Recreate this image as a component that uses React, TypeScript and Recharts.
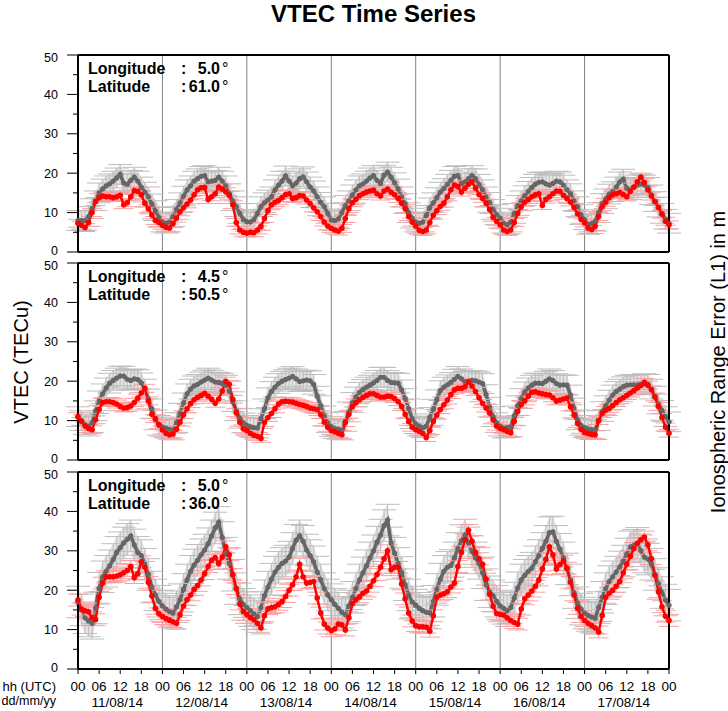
import React from "react";
import { ComposedChart, Line, Area, XAxis, YAxis, ErrorBar, ReferenceLine } from "recharts";

// hourly VTEC values (TECu), 11/08/14 00 UTC .. 18/08/14 00 UTC
const p1Grey = [
  8, 8, 8, 9, 11, 13, 15, 16, 16.8, 17.3, 18, 18.8, 19.7, 17.5, 17.2, 18.2, 19, 18, 16.5, 15.2, 14, 12.2, 10.5, 8.8,
  7.6, 7.3, 7.6, 9, 10.8, 12.5, 14.2, 15.8, 16.8, 18, 18.6, 19.2, 19.4, 17.8, 18, 18.2, 19, 18, 16.8, 14.8, 13, 11.5, 9.8, 8.2,
  7.7, 7.6, 8.2, 9.8, 11.5, 12.5, 13.2, 14, 15.8, 17, 18, 19.3, 18, 16.8, 17.5, 18.6, 19.1, 17.8, 16.5, 15.5, 14, 12.6, 11.5, 9.8,
  8.1, 8, 8.4, 10, 11.8, 13, 14.5, 15.8, 16.8, 17.3, 18, 18.8, 19.4, 18.2, 17.4, 19.5, 20.3, 19, 17.6, 16, 14, 12.3, 10, 8.6,
  7.6, 7.3, 7.6, 9.3, 11.2, 12.5, 13.8, 15.2, 16.1, 17.2, 18.2, 19.2, 19.4, 17.4, 17.8, 18.6, 19.4, 18.6, 17.2, 15.8, 14, 12.6, 10.8, 9.5,
  8.6, 7.3, 6.9, 7.6, 9.8, 11.8, 13, 14.3, 15.4, 16.4, 17.2, 17.7, 17.8, 17.3, 17, 17.4, 18, 17.8, 17, 15.8, 14.8, 13, 11.5, 9.5,
  8.2, 7, 7.2, 7.8, 10, 12.3, 13.5, 14.7, 15.3, 16.5, 17.8, 18.5, 16.2, 15.8, 16.4, 17, 17.3, 17, 16.4, 14.5, 12.8, 11.4, 9.8, 8.3, 7.3,
];
const p1Red = [
  7.3, 6.8, 6.2, 7.5, 10, 12.8, 13.8, 14.2, 14, 14, 13.8, 14, 14.4, 12, 12.5, 14, 15.6, 15.4, 14.5, 12.4, 11, 9.4, 8, 7.5,
  6.8, 6.3, 6.1, 7.2, 8.6, 10.2, 11.2, 12.2, 13.2, 14.5, 15.8, 16.3, 16.4, 13.3, 14, 14.8, 16.5, 16, 15.3, 14.4, 12, 7.5, 5.6, 5,
  4.8, 5, 4.9, 5.6, 6.5, 8.5, 10.5, 12, 12.6, 13.1, 13.8, 14.6, 14.8, 13.6, 13.8, 14.3, 14.2, 13.2, 12.3, 11.2, 10.2, 9, 7.6, 6.6,
  6, 5.6, 5.3, 6, 8.5, 11, 12.5, 13.4, 14.3, 14.8, 15.2, 15.5, 15.7, 14.8, 14.2, 15.5, 16, 15.2, 14.5, 13.6, 12.4, 11, 9, 7.6,
  6.6, 5.5, 5.2, 5.6, 7.5, 9.3, 10.5, 11.6, 12.4, 14, 15.8, 17, 16.6, 15.2, 16.2, 17.2, 17.8, 16.2, 14.6, 13.6, 12.4, 10.8, 8.8, 7.8,
  6.9, 5.6, 5.2, 5.6, 7.5, 9.8, 11.5, 12.6, 13.3, 14, 14.5, 14.8, 11.8, 13.4, 14, 14.8, 15.5, 15.4, 14.4, 13.6, 12.7, 11.3, 9.7, 8.3,
  7.4, 6.1, 5.7, 6.5, 9, 11.5, 12.6, 13.8, 14.5, 14.8, 15.1, 14.6, 14, 15.4, 16.5, 17.8, 19, 17.6, 15.8, 14.2, 12.8, 11.3, 9.6, 7.8, 6.9,
];
const p2Grey = [
  11, 10, 9, 8.6, 9.5, 12.5, 15, 16.8, 18.3, 19.5, 20.2, 20.8, 21.3, 21.3, 20.5, 20.2, 20.6, 20.4, 19.6, 18, 15.5, 13, 10.2, 8.8,
  8.4, 8.1, 7.8, 7.6, 9.5, 11.9, 14.5, 16.8, 18, 18.8, 19.2, 19.8, 20.3, 20.8, 20.3, 19.8, 19.7, 19.4, 19, 17.5, 14.8, 12.5, 10.6, 9.4,
  8.8, 8.4, 8.2, 8.1, 10.5, 13, 15.8, 17.4, 18.5, 19.4, 20, 20.4, 20.8, 21.2, 20.6, 19.9, 20.1, 20.3, 20.1, 19.2, 16.2, 13.8, 11.2, 9.5,
  8.5, 8, 7.8, 7.6, 9.8, 12.2, 14.6, 16, 17.2, 17.9, 18.5, 19, 19.6, 20.2, 21, 21, 20.2, 19.7, 19.6, 19.5, 17.8, 15.6, 13, 10.5,
  9.2, 8.6, 8.2, 8.6, 10.8, 12.9, 15.3, 17.6, 18.5, 19.1, 19.7, 20.5, 21.2, 20.6, 19.9, 20, 20.2, 20.1, 19.8, 19.4, 16.6, 13.4, 11, 9.5,
  8.6, 8.1, 8.2, 8.4, 11.2, 13.8, 15.6, 17.3, 18.3, 19, 19.5, 19.5, 19.4, 20, 20.6, 20.2, 19.4, 19, 19.1, 19, 16.5, 13.2, 10.2, 8.8,
  8.2, 7.9, 7.7, 7.7, 10, 12.3, 13.8, 15.2, 16.5, 17.4, 18, 18.6, 19, 19.1, 19.1, 19.1, 19.2, 19.4, 19.2, 18, 16.2, 14.2, 12.6, 11, 9.7,
];
const p2Red = [
  11, 9.8, 8.6, 8, 7.7, 10.2, 12.8, 14.6, 14.8, 14.8, 14.6, 14.2, 13.6, 13.2, 13.3, 13.7, 14.6, 15.7, 17, 18.2, 15, 11.6, 10.5, 9,
  7.6, 6.8, 6.4, 6.6, 7.8, 9.6, 11.5, 13, 14.3, 15.3, 15.9, 16.4, 16.9, 16.2, 15.4, 14.4, 15.5, 17.5, 20, 19.2, 15.4, 12, 9.6, 7.9,
  7.5, 6.8, 6.3, 6, 5.5, 9.5, 10.8, 11.8, 13, 14.2, 14.8, 14.9, 14.8, 14.7, 14.4, 14.1, 13.9, 13.6, 13.2, 13, 12.8, 11.5, 9.6, 8.3,
  7.5, 7.2, 6.8, 6.4, 9.5, 11.6, 13.5, 14.5, 15.3, 15.9, 16.4, 16.8, 16.8, 16.4, 16, 16, 16.2, 16.1, 15.6, 14.8, 13.6, 11.6, 9.8, 8.3,
  7.7, 7.3, 6.8, 5.7, 7.5, 9.8, 11.4, 12.8, 14, 15.2, 16.6, 17.8, 18.2, 18.2, 18.6, 19.8, 18.8, 17.4, 15.8, 14.4, 13.2, 11.9, 10.2, 8.6,
  8, 7.7, 7.3, 6.9, 9.8, 12.3, 14.1, 15, 16.2, 17.2, 17.3, 17, 16.8, 16.6, 16.5, 15.8, 15, 15.2, 15.5, 15.7, 13.5, 11.4, 9.3, 7.8,
  7, 6.7, 6.5, 6.4, 10, 11.8, 12.6, 13.1, 13.8, 14.6, 15.3, 15.8, 16.4, 17, 17.6, 18.3, 18.9, 19.7, 19, 17.8, 16, 13.6, 10.8, 8.4, 6.8,
];
const p3Grey = [
  17, 15, 13, 12.2, 11.6, 15.5, 20.5, 23.4, 24.8, 26.2, 27.8, 29.6, 30.8, 32, 32.9, 33.8, 31.5, 29.6, 28.8, 26.6, 24, 20.8, 18.8, 17.2,
  16, 15.2, 14.6, 14.2, 15.8, 17.6, 20.2, 22.6, 24.8, 26.4, 27.6, 29, 30.2, 31.8, 33.8, 35.8, 37.2, 33.4, 29.4, 26.8, 23.8, 20.4, 17.8, 16.4,
  15.6, 14.8, 14, 13.3, 15.6, 18.6, 20.8, 22.8, 24.6, 25.8, 26.8, 27.4, 28.4, 30.6, 32.7, 33.8, 32.4, 30.2, 28.8, 27.2, 24.6, 22.6, 20.4, 18.8,
  17.6, 16.4, 15.4, 14.4, 13.8, 16, 18.2, 20.4, 22.6, 24.4, 26.2, 28.2, 30, 32.2, 34, 36.4, 37.8, 32, 29.4, 26.8, 24.5, 21.4, 18.8, 17,
  16.2, 15.4, 14.8, 14.4, 14.2, 17.2, 20.2, 22.8, 24.8, 25.8, 26.3, 28.2, 30.6, 32.6, 34, 32, 29.8, 28.2, 26.8, 24.4, 21.4, 19.6, 18.6, 17.2,
  16, 15.4, 14.8, 15.6, 18, 20.6, 22.6, 23.8, 24.8, 25.6, 27.2, 28.8, 30.6, 32.4, 34.6, 34.8, 32.4, 30.4, 28.2, 25.4, 22.6, 19.4, 16.8, 15.2,
  14.2, 13.6, 13.2, 12.9, 15.6, 18.2, 20.4, 22.2, 23.4, 24.6, 25.9, 27.4, 29.2, 31, 31.4, 31.9, 30, 28.4, 27.9, 26.6, 24, 21.7, 19.4, 17.5, 16.2,
];
const p3Red = [
  17.5, 15.2, 14.8, 14.5, 13, 12.5, 18.2, 21.8, 23.4, 23.4, 23.4, 23.6, 23.9, 24.4, 25, 26, 23.2, 24.2, 27.2, 25.8, 22, 18.5, 15.4, 14,
  13.3, 12.8, 12.4, 12, 11.6, 13.8, 16, 17.6, 18.8, 20.2, 21.2, 22.6, 24.2, 26, 27.6, 28.3, 26.8, 28.4, 31, 29, 24, 20.4, 16.5, 14.6,
  13.8, 13.1, 12.5, 11.6, 10.4, 13.5, 15.3, 15.6, 15.8, 16.4, 17.1, 18.4, 20, 21.4, 23.4, 26.6, 23.4, 21.8, 22, 22.2, 18, 14.2, 11.4, 10.4,
  9.7, 10.2, 11.4, 11.2, 9.9, 13, 16.6, 17.6, 18.3, 19.2, 19.8, 21, 22.4, 24, 25.8, 28, 30, 25.2, 25.8, 25.8, 21.6, 17.8, 14.2, 12.2,
  11, 10.7, 10.7, 10.6, 9.6, 13.5, 18.2, 18.8, 19.1, 19.6, 20.8, 21.8, 26, 29.6, 32.8, 35.2, 32.4, 29.6, 28, 26.6, 22.8, 19, 16, 14.1,
  13.9, 13.7, 13, 12.3, 11.8, 11.4, 15.2, 17.8, 18.8, 19.8, 21, 22.6, 25.4, 27.8, 31, 29, 25.4, 26.5, 27.4, 25.6, 22, 18.8, 15.4, 13.3,
  12.3, 11.6, 11, 10.4, 9.4, 13.6, 18.2, 19.2, 20, 21, 22.2, 24.4, 26.6, 28.6, 30.6, 31.9, 32.8, 33.5, 31.5, 28, 23.8, 19.6, 15.8, 13.4, 12.3,
];

const greyErr = [2.5, 2.5, 4];
const redErr = [1.0, 1.0, 1.5];
const longitudes = ["5.0", "4.5", "5.0"];
const latitudes = ["61.0", "50.5", "36.0"];
const dates = ["11/08/14", "12/08/14", "13/08/14", "14/08/14", "15/08/14", "16/08/14", "17/08/14"];
const hourTicks = [0, 6, 12, 18, 24, 30, 36, 42, 48, 54, 60, 66, 72, 78, 84, 90, 96, 102, 108, 114, 120, 126, 132, 138, 144, 150, 156, 162, 168];
const vtecTicks = [0, 5, 10, 15, 20, 25, 30, 35, 40, 45, 50];
const rangeTicks = [0, 2, 4, 6, 8];

const greys = [p1Grey, p2Grey, p3Grey];
const reds = [p1Red, p2Red, p3Red];
const panelTops = [55, 263, 472];

const FONT = "'Liberation Sans', Arial, Helvetica, sans-serif";
const W = 728;
const PLOT_H = 197;

const LeftTick = (props: any) => {
  const { x, y, payload } = props;
  const v = payload.value;
  const major = v % 10 === 0;
  // nudge the outer labels apart where panels meet
  const dy = v === 0 ? 2.5 : v === 50 ? 6.5 : 4.5;
  return (
    <g>
      <line x1={x - (major ? 11 : 5)} x2={x} y1={y} y2={y} stroke="#000" />
      {major && (
        <text x={x - 20} y={y} dy={dy} textAnchor="end" fontSize={12.5} fill="#000">
          {v}
        </text>
      )}
    </g>
  );
};

const RightTick = (props: any) => {
  const { x, y, payload } = props;
  const v = payload.value;
  const dy = v === 0 ? 2.5 : v === 8 ? 5.5 : 4.5;
  return (
    <text x={x} y={y} dy={dy} textAnchor="start" fontSize={12.5} fill="#000">
      {v}
    </text>
  );
};

const HourTick = (props: any) => {
  const { x, y, payload } = props;
  const v = payload.value;
  const day = Math.floor(v / 24);
  return (
    <g>
      <text x={x} y={y + 15} textAnchor="middle" fontSize={13.5} fill="#000">
        {String(v % 24).padStart(2, "0")}
      </text>
      {v % 24 === 12 && day < dates.length && (
        <text x={x - 3} y={y + 31} textAnchor="middle" fontSize={13.5} fill="#000">
          {dates[day]}
        </text>
      )}
    </g>
  );
};

const dotOf = (color: string, r: number) => (p: any) => (
  <circle key={`d${p.index}`} cx={p.cx} cy={p.cy} r={r} fill={color} stroke="none" />
);

function Panel({ idx }: { idx: number }) {
  const last = idx === 2;
  const ge = greyErr[idx];
  const re = redErr[idx];
  const rows = greys[idx].map((g, h) => ({
    h,
    g,
    r: reds[idx][h],
    ge,
    re,
    band: [g - ge, g + ge],
  }));
  const bottomH = last ? 42 : 8;
  const H = 12 + PLOT_H + bottomH + (last ? 0 : 4);
  return (
    <div style={{ position: "absolute", left: 0, top: panelTops[idx] - 12 }}>
      <ComposedChart
        width={W}
        height={H}
        data={rows}
        margin={{ top: 4, right: 0, bottom: last ? 0 : 4, left: 0 }}
      >
        <XAxis
          xAxisId="t"
          orientation="top"
          type="number"
          dataKey="h"
          domain={[0, 168]}
          ticks={hourTicks}
          height={8}
          tick={false}
          tickSize={5}
          tickLine={{ stroke: "#000" }}
          axisLine={{ stroke: "#000", strokeWidth: 2 }}
        />
        <XAxis
          xAxisId="b"
          type="number"
          dataKey="h"
          domain={[0, 168]}
          ticks={hourTicks}
          height={bottomH}
          tick={last ? <HourTick /> : false}
          tickSize={5}
          tickMargin={2}
          tickLine={{ stroke: "#000" }}
          axisLine={{ stroke: "#000", strokeWidth: 2 }}
          interval={0}
        />
        <YAxis
          yAxisId="l"
          type="number"
          domain={[0, 50]}
          ticks={vtecTicks}
          width={78}
          tickSize={0}
          tickMargin={0}
          tickLine={false}
          tick={<LeftTick />}
          axisLine={{ stroke: "#000", strokeWidth: 2 }}
          interval={0}
        />
        <YAxis
          yAxisId="r"
          orientation="right"
          type="number"
          domain={[0, 8.1]}
          ticks={rangeTicks}
          width={59}
          tickSize={5}
          tickMargin={7}
          tickLine={{ stroke: "#000" }}
          axisLine={{ stroke: "#000", strokeWidth: 2 }}
          tick={<RightTick />}
          interval={0}
        />
        {dates.slice(1).map((_, i) => (
          <ReferenceLine
            key={i}
            xAxisId="b"
            yAxisId="l"
            x={(i + 1) * 24}
            stroke="#808080"
            strokeWidth={1}
          />
        ))}
        <Area
          xAxisId="b"
          yAxisId="l"
          dataKey="band"
          stroke="none"
          fill="#d6d6d6"
          fillOpacity={0.65}
          isAnimationActive={false}
          dot={false}
          activeDot={false}
        />
        <Line
          xAxisId="b"
          yAxisId="l"
          dataKey="g"
          stroke="#666666"
          strokeWidth={3.5}
          dot={dotOf("#666666", 2.6)}
          activeDot={false}
          isAnimationActive={false}
        >
          <ErrorBar dataKey="ge" width={12} stroke="#bdbdbd" strokeWidth={1} direction="y" />
        </Line>
        <Line
          xAxisId="b"
          yAxisId="l"
          dataKey="r"
          stroke="#ff0000"
          strokeWidth={2.5}
          dot={dotOf("#ff0000", 2.8)}
          activeDot={false}
          isAnimationActive={false}
        >
          <ErrorBar dataKey="re" width={10} stroke="#ff9e9e" strokeWidth={1} direction="y" />
        </Line>
      </ComposedChart>
    </div>
  );
}

export default function App() {
  return (
    <div
      style={{
        position: "absolute",
        left: 0,
        top: 0,
        width: W,
        height: 711,
        background: "#fff",
        fontFamily: FONT,
        overflow: "hidden",
      }}
    >
      {[0, 1, 2].map((i) => (
        <Panel key={i} idx={i} />
      ))}
      <svg
        width={W}
        height={711}
        style={{ position: "absolute", left: 0, top: 0, pointerEvents: "none" }}
        fontFamily={FONT}
      >
        <text x={373.5} y={22} textAnchor="middle" fontSize={24} fontWeight="bold" fill="#000">
          VTEC Time Series
        </text>
        <text
          transform="translate(28 362) rotate(-90)"
          textAnchor="middle"
          fontSize={20}
          fill="#000"
        >
          VTEC (TECu)
        </text>
        <text
          transform="translate(725 362) rotate(-90)"
          textAnchor="middle"
          fontSize={20}
          fill="#000"
        >
          Ionospheric Range Error (L1) in m
        </text>
        <text x={56} y={691} textAnchor="end" fontSize={13} fill="#000">
          hh (UTC)
        </text>
        <text x={56} y={705} textAnchor="end" fontSize={12.6} fill="#000">
          dd/mm/yy
        </text>
        {panelTops.map((t, i) => (
          <g key={i} fontSize={16} fontWeight="bold" fill="#000">
            <text x={88} y={t + 19}>Longitude</text>
            <text x={181} y={t + 19}>:</text>
            <text x={220} y={t + 19} textAnchor="end">{longitudes[i]}</text>
            <text x={222} y={t + 19} fontWeight="normal">°</text>
            <text x={88} y={t + 37}>Latitude</text>
            <text x={181} y={t + 37}>:</text>
            <text x={220} y={t + 37} textAnchor="end">{latitudes[i]}</text>
            <text x={222} y={t + 37} fontWeight="normal">°</text>
          </g>
        ))}
      </svg>
    </div>
  );
}
